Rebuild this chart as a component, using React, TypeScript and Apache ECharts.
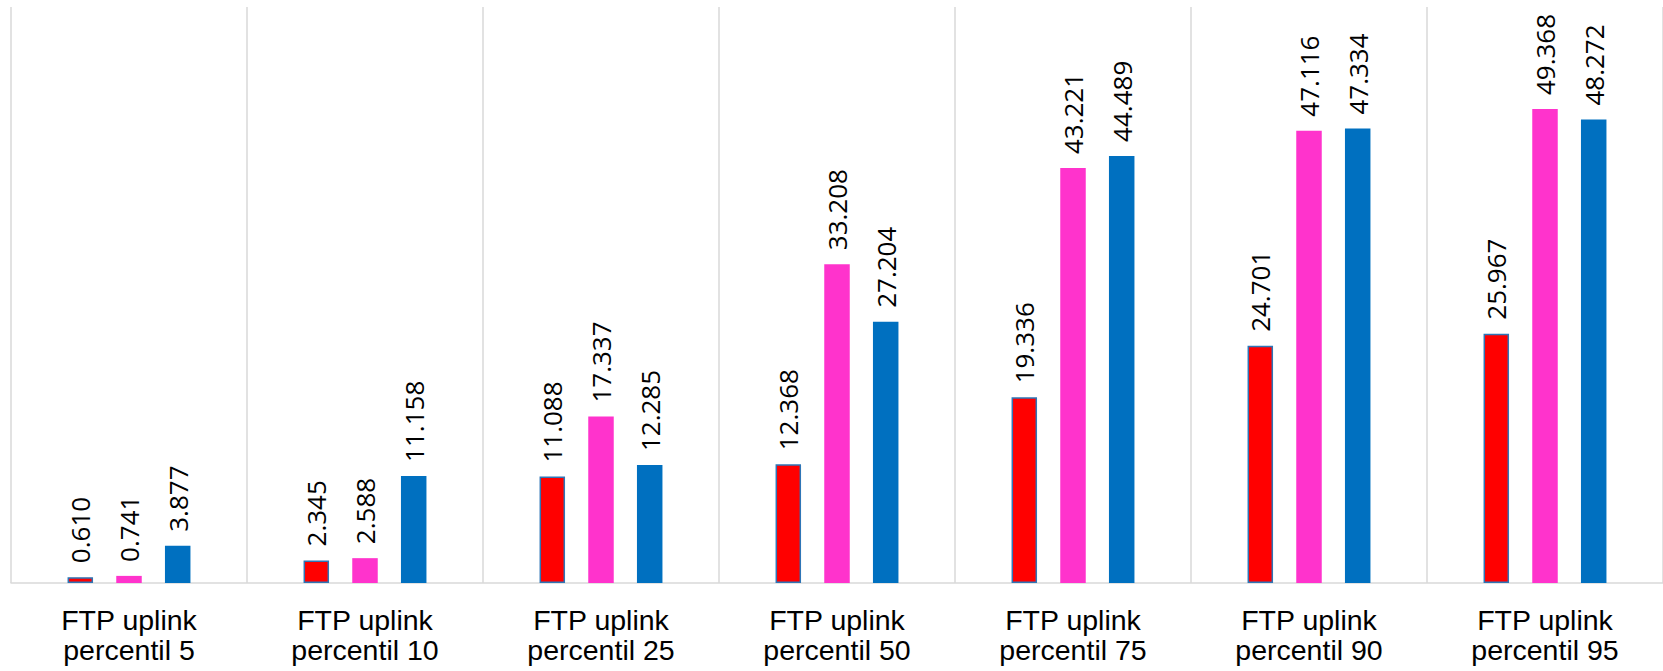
import React, { useEffect, useRef } from "react";
import * as echarts from "echarts";

const categories = [
  "FTP uplink\npercentil 5",
  "FTP uplink\npercentil 10",
  "FTP uplink\npercentil 25",
  "FTP uplink\npercentil 50",
  "FTP uplink\npercentil 75",
  "FTP uplink\npercentil 90",
  "FTP uplink\npercentil 95",
];
const redValues = [0.61, 2.345, 11.088, 12.368, 19.336, 24.701, 25.967];
const pinkValues = [0.741, 2.588, 17.337, 33.208, 43.221, 47.116, 49.368];
const blueValues = [3.877, 11.158, 12.285, 27.204, 44.489, 47.334, 48.272];

export default function App() {
  const ref = useRef<HTMLDivElement>(null);
  useEffect(() => {
    if (!ref.current) return;
    const chart = echarts.init(ref.current, null, { renderer: "svg" });
    const label = {
      show: true,
      position: "top",
      rotate: 90,
      align: "left",
      verticalAlign: "middle",
      distance: 14,
      fontFamily: "Open Sans",
      fontSize: 26,
      color: "#000000",
      formatter: (p: any) => p.value.toFixed(3),
    };
    chart.setOption({
      animation: false,
      grid: { left: 11, top: 7, right: -4, bottom: 88 },
      xAxis: {
        type: "category",
        data: categories,
        axisLine: { lineStyle: { color: "#d9d9d9", width: 1.5 } },
        axisTick: { show: false },
        splitLine: { show: true, lineStyle: { color: "#d9d9d9", width: 1.5 } },
        axisLabel: {
          interval: 0,
          margin: 22,
          fontFamily: "Liberation Sans",
          fontSize: 28.5,
          lineHeight: 30,
          color: "#000000",
        },
      },
      yAxis: { type: "value", min: 0, max: 60, show: false, splitLine: { show: false } },
      series: [
        {
          type: "bar",
          data: redValues,
          barWidth: 25.5,
          barGap: "91%",
          itemStyle: { color: "#ff0000", borderColor: "#2e75b6", borderWidth: 1.5 },
          label,
        },
        {
          type: "bar",
          data: pinkValues,
          barWidth: 25.5,
          barGap: "91%",
          itemStyle: { color: "#ff33cc" },
          label,
        },
        {
          type: "bar",
          data: blueValues,
          barWidth: 25.5,
          barGap: "91%",
          itemStyle: { color: "#0070c0" },
          label,
        },
      ],
    });
    return () => chart.dispose();
  }, []);
  return (
    <div
      ref={ref}
      style={{ position: "fixed", left: 0, top: 0, width: 1663, height: 671, background: "#ffffff" }}
    />
  );
}
